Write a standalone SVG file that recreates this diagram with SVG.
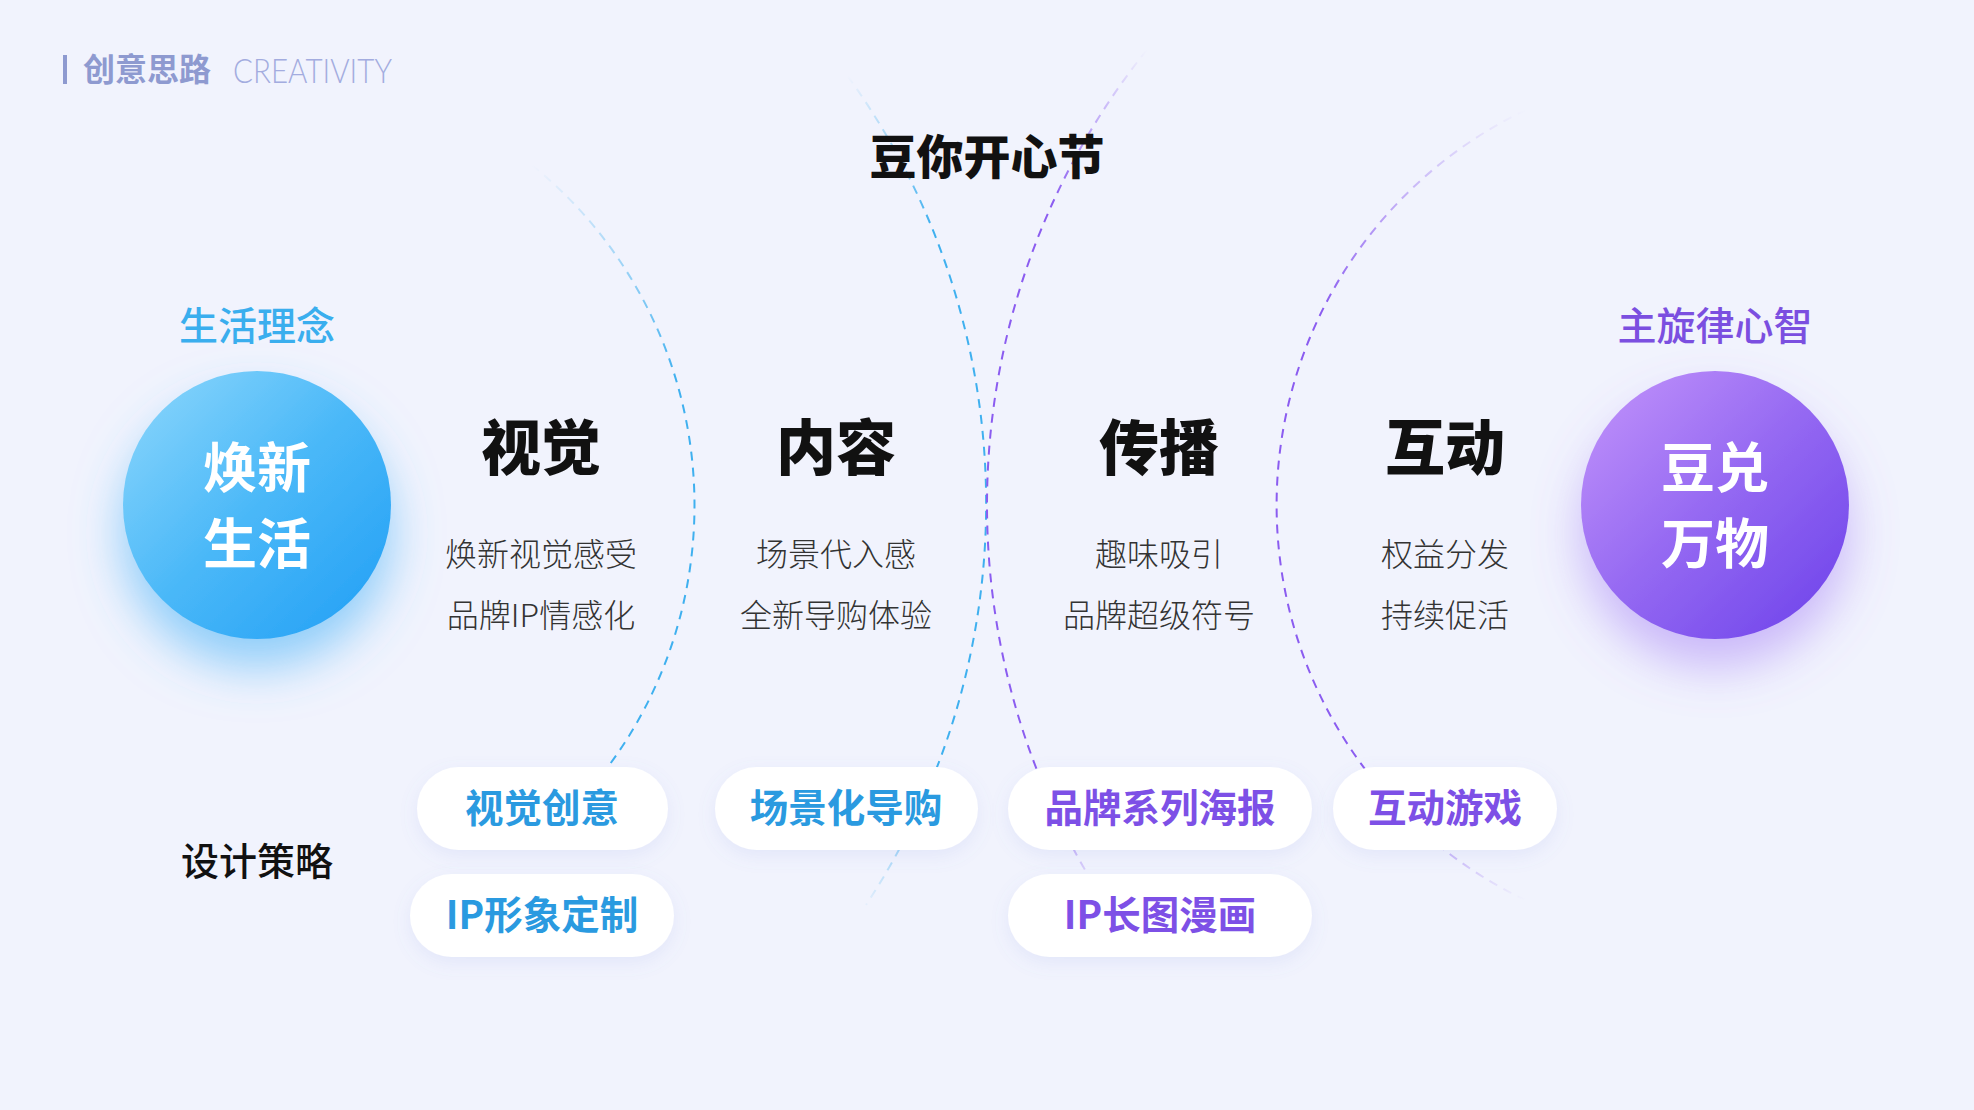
<svg xmlns="http://www.w3.org/2000/svg" width="1974" height="1110" viewBox="0 0 1974 1110">
<defs>
<style>
.cjk{font-family:"Noto Sans CJK SC","Noto Sans",sans-serif;}
.hd{font-family:"Noto Sans CJK SC",sans-serif;font-weight:900;font-size:60px;fill:#111;text-anchor:middle;dominant-baseline:central;}
.sub{font-family:"Noto Sans CJK SC",sans-serif;font-weight:300;font-size:32px;fill:#333;text-anchor:middle;dominant-baseline:central;}
.pill{fill:#fff;filter:url(#pillShadow);}
.pt{font-family:"Noto Sans CJK SC",sans-serif;font-weight:700;font-size:38.5px;text-anchor:middle;dominant-baseline:central;}
.blue{fill:#2a9ae0;}
.purple{fill:#7d50e6;}
.ctext{font-family:"Noto Sans CJK SC",sans-serif;font-weight:700;font-size:54px;fill:#fff;text-anchor:middle;dominant-baseline:central;}
.arc{fill:none;stroke-width:2;stroke-dasharray:9 7;}
</style>
<linearGradient id="gBlueBall" x1="0" y1="0" x2="1" y2="1">
<stop offset="0" stop-color="#8fd8fc"/>
<stop offset="0.5" stop-color="#4ab8f8"/>
<stop offset="1" stop-color="#1f9ef5"/>
</linearGradient>
<linearGradient id="gPurpleBall" x1="0" y1="0" x2="1" y2="1">
<stop offset="0" stop-color="#c495fb"/>
<stop offset="0.5" stop-color="#9468f2"/>
<stop offset="1" stop-color="#6b40ea"/>
</linearGradient>
<filter id="blueGlow" x="-50%" y="-50%" width="200%" height="220%">
<feDropShadow dx="0" dy="28" stdDeviation="24" flood-color="#4cb4f8" flood-opacity="0.6"/>
</filter>
<filter id="purpleGlow" x="-50%" y="-50%" width="200%" height="220%">
<feDropShadow dx="0" dy="28" stdDeviation="24" flood-color="#9a6ff5" flood-opacity="0.45"/>
</filter>
<filter id="pillShadow" x="-20%" y="-40%" width="140%" height="190%">
<feDropShadow dx="0" dy="6" stdDeviation="9" flood-color="#7a8ce0" flood-opacity="0.12"/>
</filter>
<linearGradient id="gArc1" gradientUnits="userSpaceOnUse" x1="0" y1="165" x2="0" y2="775">
<stop offset="0" stop-color="#3fb0ef" stop-opacity="0"/>
<stop offset="0.35" stop-color="#3fb0ef" stop-opacity="1"/>
<stop offset="1" stop-color="#3fb0ef" stop-opacity="1"/>
</linearGradient>
<linearGradient id="gArc2" gradientUnits="userSpaceOnUse" x1="0" y1="76" x2="0" y2="915">
<stop offset="0" stop-color="#3fb0ef" stop-opacity="0"/>
<stop offset="0.18" stop-color="#3fb0ef" stop-opacity="1"/>
<stop offset="0.82" stop-color="#3fb0ef" stop-opacity="1"/>
<stop offset="1" stop-color="#3fb0ef" stop-opacity="0"/>
</linearGradient>
<linearGradient id="gArc3" gradientUnits="userSpaceOnUse" x1="0" y1="50" x2="0" y2="900">
<stop offset="0" stop-color="#8b5cf0" stop-opacity="0"/>
<stop offset="0.18" stop-color="#8b5cf0" stop-opacity="1"/>
<stop offset="0.85" stop-color="#8b5cf0" stop-opacity="1"/>
<stop offset="1" stop-color="#8b5cf0" stop-opacity="0"/>
</linearGradient>
<linearGradient id="gArc4" gradientUnits="userSpaceOnUse" x1="0" y1="110" x2="0" y2="900">
<stop offset="0" stop-color="#8b5cf0" stop-opacity="0"/>
<stop offset="0.25" stop-color="#8b5cf0" stop-opacity="1"/>
<stop offset="0.85" stop-color="#8b5cf0" stop-opacity="1"/>
<stop offset="1" stop-color="#8b5cf0" stop-opacity="0"/>
</linearGradient>
</defs>

<rect width="1974" height="1110" fill="#f1f3fd"/>

<g id="header">
<rect x="63" y="55" width="4" height="29" fill="#8e9ad0"/>
<text x="83" y="67" class="cjk" font-weight="700" font-size="32" fill="#8e9ad0" dominant-baseline="central">创意思路</text>
<text x="233" y="69" font-family="Lato, 'Noto Sans', sans-serif" font-weight="300" font-size="34" fill="#a3acdf" dominant-baseline="central" textLength="159" lengthAdjust="spacingAndGlyphs">CREATIVITY</text>
</g>

<g id="connectors">
<path class="arc" stroke="url(#gArc1)" d="M532,165 A438,438 0 0 1 602,774.7"/>
<path class="arc" stroke="url(#gArc2)" d="M847.6,75.9 A730,730 0 0 1 866,905"/>
<path class="arc" stroke="url(#gArc3)" d="M1146.7,50 A728,728 0 0 0 1103.5,900"/>
<path class="arc" stroke="url(#gArc4)" d="M1525.7,110 A438,438 0 0 0 1525,900"/>
</g>

<g id="title">
<text x="987" y="153" class="cjk" font-weight="900" font-size="47" fill="#111" text-anchor="middle" dominant-baseline="central">豆你开心节</text>
</g>

<g id="node-left">
<text x="257" y="323" class="cjk" font-weight="500" font-size="39" fill="#3aaeee" text-anchor="middle" dominant-baseline="central">生活理念</text>
<circle cx="257" cy="505" r="134" fill="url(#gBlueBall)" filter="url(#blueGlow)"/>
<text x="257" y="464" class="ctext">焕新</text>
<text x="257" y="540" class="ctext">生活</text>
</g>

<g id="node-right">
<text x="1715" y="323" class="cjk" font-weight="500" font-size="39" fill="#7b4fe0" text-anchor="middle" dominant-baseline="central">主旋律心智</text>
<circle cx="1715" cy="505" r="134" fill="url(#gPurpleBall)" filter="url(#purpleGlow)"/>
<text x="1715" y="464" class="ctext">豆兑</text>
<text x="1715" y="540" class="ctext">万物</text>
</g>

<g id="col-visual">
<text x="541" y="443" class="hd">视觉</text>
<text x="541" y="552" class="sub">焕新视觉感受</text>
<text x="541" y="613" class="sub">品牌IP情感化</text>
</g>
<g id="col-content">
<text x="836" y="443" class="hd">内容</text>
<text x="836" y="552" class="sub">场景代入感</text>
<text x="836" y="613" class="sub">全新导购体验</text>
</g>
<g id="col-spread">
<text x="1159" y="443" class="hd">传播</text>
<text x="1159" y="552" class="sub">趣味吸引</text>
<text x="1159" y="613" class="sub">品牌超级符号</text>
</g>
<g id="col-interact">
<text x="1445" y="443" class="hd">互动</text>
<text x="1445" y="552" class="sub">权益分发</text>
<text x="1445" y="613" class="sub">持续促活</text>
</g>

<g id="strategy-label">
<text x="257" y="858" class="cjk" font-weight="500" font-size="38" fill="#111" text-anchor="middle" dominant-baseline="central">设计策略</text>
</g>

<g id="pill-visual-creative">
<rect class="pill" x="417" y="767" width="251" height="83" rx="41.5"/>
<text x="542" y="805" class="pt blue">视觉创意</text>
</g>
<g id="pill-ip-image">
<rect class="pill" x="410" y="874" width="264" height="83" rx="41.5"/>
<text x="542" y="912" class="pt blue">IP形象定制</text>
</g>
<g id="pill-scene-guide">
<rect class="pill" x="715" y="767" width="263" height="83" rx="41.5"/>
<text x="846" y="805" class="pt blue">场景化导购</text>
</g>
<g id="pill-brand-poster">
<rect class="pill" x="1008" y="767" width="304" height="83" rx="41.5"/>
<text x="1160" y="805" class="pt purple">品牌系列海报</text>
</g>
<g id="pill-ip-comic">
<rect class="pill" x="1008" y="874" width="304" height="83" rx="41.5"/>
<text x="1160" y="912" class="pt purple">IP长图漫画</text>
</g>
<g id="pill-game">
<rect class="pill" x="1333" y="767" width="224" height="83" rx="41.5"/>
<text x="1445" y="805" class="pt purple">互动游戏</text>
</g>
</svg>
